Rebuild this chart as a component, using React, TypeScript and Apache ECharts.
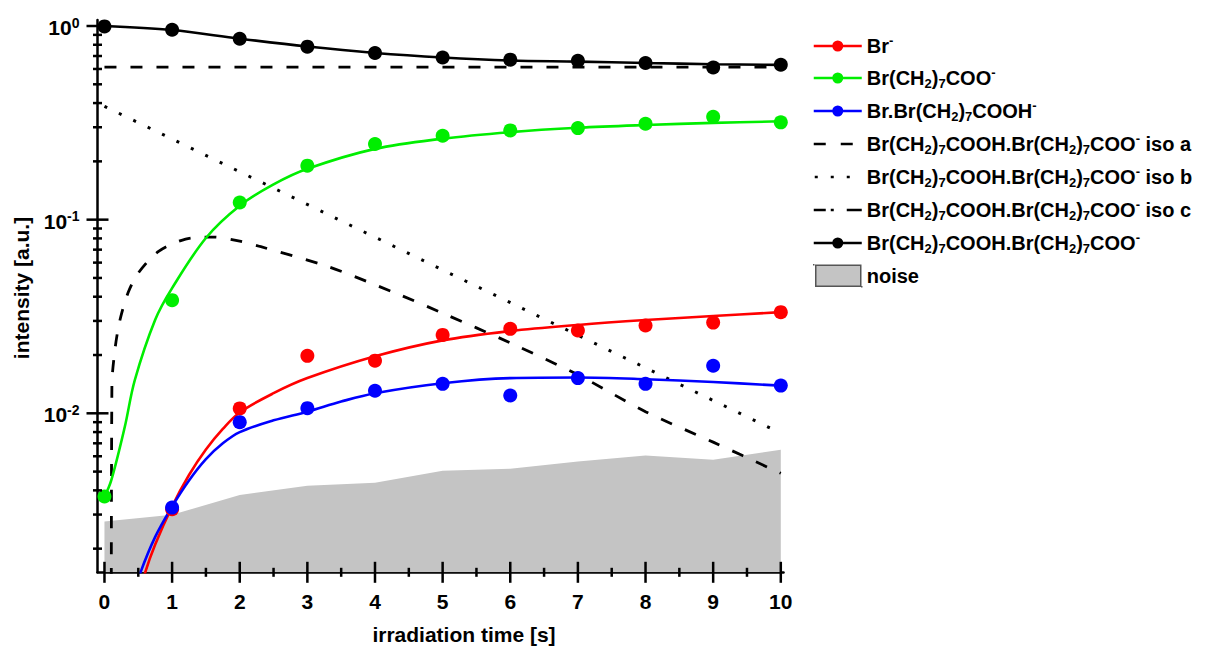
import React, { useEffect, useRef } from 'react';
import * as echarts from 'echarts';

const FONT = '"Liberation Sans", Arial, sans-serif';

// ---- axes ----
const X_MIN = -0.103;
const X_MAX = 10.04;
const Y_MIN = 0.00151;
const Y_MAX = 1.074;
const X_MAJOR = [0, 1, 2, 3, 4, 5, 6, 7, 8, 9, 10];
const X_TICK_LABELS = ['0', '1', '2', '3', '4', '5', '6', '7', '8', '9', '10'];
const X_MINOR = [0.5, 1.5, 2.5, 3.5, 4.5, 5.5, 6.5, 7.5, 8.5, 9.5];
const Y_MAJOR = [1, 0.1, 0.01];
const Y_TICK_EXP = ['0', '-1', '-2'];
const Y_MINOR = [0.9, 0.8, 0.7, 0.6, 0.5, 0.4, 0.3, 0.2, 0.09, 0.08, 0.07, 0.06, 0.05, 0.04, 0.03, 0.02, 0.009, 0.008, 0.007, 0.006, 0.005, 0.004, 0.003, 0.002];

// ---- names ----
const N_BR = 'Br-';
const N_ACID = 'Br(CH2)7COO-';
const N_ADD = 'Br.Br(CH2)7COOH-';
const N_ISOA = 'Br(CH2)7COOH.Br(CH2)7COO- iso a';
const N_ISOB = 'Br(CH2)7COOH.Br(CH2)7COO- iso b';
const N_ISOC = 'Br(CH2)7COOH.Br(CH2)7COO- iso c';
const N_DIMER = 'Br(CH2)7COOH.Br(CH2)7COO-';
const N_NOISE = 'noise';

// ---- measured points ----
const BR_T = [1, 2, 3, 4, 5, 6, 7, 8, 9, 10];
const BR_VAL = [0.0032, 0.0106, 0.0198, 0.0187, 0.0254, 0.0273, 0.0268, 0.0284, 0.0294, 0.0333];
const ACID_T = [0, 1, 2, 3, 4, 5, 6, 7, 8, 9, 10];
const ACID_VAL = [0.00372, 0.0384, 0.1227, 0.19, 0.2457, 0.2713, 0.289, 0.297, 0.313, 0.34, 0.318];
const ADD_T = [1, 2, 3, 4, 5, 6, 7, 8, 9, 10];
const ADD_VAL = [0.00326, 0.009, 0.01063, 0.01307, 0.0142, 0.01236, 0.0152, 0.0142, 0.0176, 0.0139];
const DIMER_T = [0, 1, 2, 3, 4, 5, 6, 7, 8, 9, 10];
const DIMER_VAL = [0.995, 0.957, 0.86, 0.782, 0.725, 0.688, 0.67, 0.662, 0.644, 0.611, 0.631];

// ---- fitted curves ----
const BR_FIT_T = [0.5, 0.6, 0.75, 1, 1.25, 1.5, 1.75, 2, 2.5, 3, 4, 5, 6, 7, 8, 9, 10];
const BR_FIT = [0.0011, 0.0015, 0.0021, 0.0033, 0.0048, 0.0065, 0.0083, 0.0101, 0.0127, 0.0152, 0.0197, 0.0238, 0.0266, 0.0286, 0.0303, 0.0318, 0.0333];
const ACID_FIT_T = [0, 0.1, 0.3, 0.45, 0.75, 1, 1.5, 2, 2.5, 3, 4, 5, 6, 7, 8, 9, 10];
const ACID_FIT = [0.0037, 0.0045, 0.0085, 0.0149, 0.0304, 0.0443, 0.0804, 0.118, 0.152, 0.183, 0.232, 0.262, 0.283, 0.298, 0.308, 0.316, 0.322];
const ADD_FIT_T = [0.45, 0.53, 0.75, 1, 1.25, 1.5, 1.75, 2, 2.5, 3, 3.5, 4, 5, 6, 7, 8, 9, 10];
const ADD_FIT = [0.0012, 0.0015, 0.0023, 0.0033, 0.0045, 0.0058, 0.007, 0.008, 0.0092, 0.0102, 0.0115, 0.0127, 0.0143, 0.0152, 0.0153, 0.015, 0.0145, 0.0139];
const DIMER_FIT_T = [0, 1, 2, 3, 4, 5, 6, 7, 8, 9, 10];
const DIMER_FIT = [1.0, 0.953, 0.86, 0.783, 0.726, 0.688, 0.664, 0.655, 0.644, 0.635, 0.63];
const ISOA_T = [0.1, 0.11, 0.16, 0.23, 0.35, 0.5, 0.8, 1.2, 1.6, 2.0, 2.3, 3.3, 4.3, 5, 6, 7, 8, 9, 10];
const ISOA_VAL = [0.0004, 0.014, 0.022, 0.0304, 0.042, 0.053, 0.0685, 0.0794, 0.0813, 0.0775, 0.0727, 0.0573, 0.0418, 0.0329, 0.0231, 0.0158, 0.0102, 0.0071, 0.0049];
const ISOA_FLAT_T = [0, 10];
const ISOA_FLAT_VAL = [0.613, 0.613];
const ISOB_T = [0, 5, 10];
const ISOB_VAL = [0.385, 0.055, 0.0079];
const NOISE_T = [0, 1, 2, 3, 4, 5, 6, 7, 8, 9, 10];
const NOISE_VAL = [0.00276, 0.00299, 0.00379, 0.00422, 0.00438, 0.00505, 0.00517, 0.00564, 0.00605, 0.00575, 0.00648];

// ---- legend rich labels ----
const DIMER_RICH = '{n|Br(CH}{s|2}{n|)}{s|7}{n|COOH.Br(CH}{s|2}{n|)}{s|7}{n|COO}{p|-}';
const LEGEND_LABELS: Record<string, string> = {
  [N_BR]: '{n|Br}{p|-}',
  [N_ACID]: '{n|Br(CH}{s|2}{n|)}{s|7}{n|COO}{p|-}',
  [N_ADD]: '{n|Br.Br(CH}{s|2}{n|)}{s|7}{n|COOH}{p|-}',
  [N_ISOA]: DIMER_RICH + '{n| iso a}',
  [N_ISOB]: DIMER_RICH + '{n| iso b}',
  [N_ISOC]: DIMER_RICH + '{n| iso c}',
  [N_DIMER]: DIMER_RICH,
  [N_NOISE]: '{n|noise}',
};

const CORNERS = 'M0,0h0.01v0.01h-0.01z M47.99,21.99h0.01v0.01h-0.01z ';
const ICON_LINE_DOT = 'path://' + CORNERS + 'M0,9.7h48v2.6h-48z M24,5.5a5.5,5.5 0 1,1 0,11a5.5,5.5 0 1,1 0,-11z';
const ICON_DASH = 'path://' + CORNERS + 'M0,9.7h12v2.6h-12z M27,9.7h12v2.6h-12z';
const ICON_DOT = 'path://' + CORNERS + 'M1,9.7h3v2.6h-3z M17,9.7h3v2.6h-3z M33,9.7h3v2.6h-3z';
const ICON_DASHDOT = 'path://' + CORNERS + 'M0,9.7h12v2.6h-12z M17,9.7h3v2.6h-3z M33,9.7h15v2.6h-15z';
const ICON_RECT = 'path://' + CORNERS + 'M2,0.5h45v21h-45z';

const RED = '#ff0000';
const GREEN = '#00ee00';
const BLUE = '#0000ff';
const BLACK = '#000000';
const GRAY = '#c4c4c4';

const pairs = (t: number[], v: number[]) => t.map((x, i) => [x, v[i]]);

export default function App() {
  const ref = useRef<HTMLDivElement>(null);
  useEffect(() => {
    const chart = echarts.init(ref.current!, null, { renderer: 'svg' });

    const fitLine = (name: string, color: string, t: number[], v: number[]) => ({
      type: 'line', name, data: pairs(t, v), color, symbol: 'none', showSymbol: false,
      smooth: 0.35, clip: true, z: 3,
      lineStyle: { color, width: 2.6 }, itemStyle: { color },
    });
    const scatter = (name: string, color: string, t: number[], v: number[]) => ({
      type: 'scatter', name, data: pairs(t, v), color, symbol: 'circle', symbolSize: 14,
      itemStyle: { color, opacity: 1 }, z: 5, clip: true,
    });
    const styled = (name: string, t: number[], v: number[], dash: number[], width: number, smooth: number | boolean) => ({
      type: 'line', name, data: pairs(t, v), color: BLACK, symbol: 'none', showSymbol: false,
      smooth, clip: true, z: 2,
      lineStyle: { color: BLACK, width, type: dash, cap: 'butt' }, itemStyle: { color: BLACK },
    });

    const xTickData = [
      ...X_MAJOR.map((v, i) => [v, Y_MIN, 1, i]),
      ...X_MINOR.map((v) => [v, Y_MIN, 0, -1]),
    ];
    const yTickData = [
      ...Y_MAJOR.map((v, i) => [X_MIN, v, 1, i]),
      ...Y_MINOR.map((v) => [X_MIN, v, 0, -1]),
    ];

    const option: any = {
      animation: false,
      backgroundColor: '#ffffff',
      grid: { left: 97.5, right: 426.5, top: 20, bottom: 80.7, containLabel: false, outerBoundsMode: 'none' },
      xAxis: {
        type: 'value', min: X_MIN, max: X_MAX,
        axisLine: { show: true, onZero: false, lineStyle: { color: BLACK, width: 2.5 } },
        axisTick: { show: false }, axisLabel: { show: false }, splitLine: { show: false },
      },
      yAxis: {
        type: 'log', logBase: 10, min: Y_MIN, max: Y_MAX,
        axisLine: { show: true, onZero: false, lineStyle: { color: BLACK, width: 2.5 } },
        axisTick: { show: false }, axisLabel: { show: false }, splitLine: { show: false },
        minorTick: { show: false }, minorSplitLine: { show: false },
      },
      legend: {
        orient: 'vertical', left: 813, top: 34, padding: 0,
        itemWidth: 48, itemHeight: 22, itemGap: 9,
        selectedMode: false,
        itemStyle: { borderWidth: 0 },
        formatter: (name: string) => LEGEND_LABELS[name] || name,
        textStyle: {
          color: BLACK, fontFamily: FONT, fontWeight: 'bold', fontSize: 20,
          rich: {
            n: { color: BLACK, fontFamily: FONT, fontWeight: 'bold', fontSize: 20, lineHeight: 24 },
            s: { color: BLACK, fontFamily: FONT, fontWeight: 'bold', fontSize: 13, lineHeight: 13, verticalAlign: 'bottom' },
            p: { color: BLACK, fontFamily: FONT, fontWeight: 'bold', fontSize: 13, lineHeight: 13, verticalAlign: 'top' },
          },
        },
        data: [
          { name: N_BR, icon: ICON_LINE_DOT },
          { name: N_ACID, icon: ICON_LINE_DOT },
          { name: N_ADD, icon: ICON_LINE_DOT },
          { name: N_ISOA, icon: ICON_DASH },
          { name: N_ISOB, icon: ICON_DOT },
          { name: N_ISOC, icon: ICON_DASHDOT },
          { name: N_DIMER, icon: ICON_LINE_DOT },
          { name: N_NOISE, icon: ICON_RECT, itemStyle: { color: GRAY, borderColor: '#555555', borderWidth: 1.5 } },
        ],
      },
      graphic: [
        {
          type: 'text', x: 464, y: 634,
          style: { text: 'irradiation time [s]', fill: BLACK, fontFamily: FONT, fontWeight: 'bold', fontSize: 21, align: 'center', verticalAlign: 'middle' },
        },
        {
          type: 'text', x: 21, y: 288, rotation: Math.PI / 2,
          style: { text: 'intensity [a.u.]', fill: BLACK, fontFamily: FONT, fontWeight: 'bold', fontSize: 21, align: 'center', verticalAlign: 'middle' },
        },
      ],
      series: [
        {
          type: 'line', name: N_NOISE, data: pairs(NOISE_T, NOISE_VAL), color: GRAY,
          symbol: 'none', showSymbol: false, z: 1, clip: true,
          lineStyle: { width: 0, color: GRAY }, itemStyle: { color: GRAY },
          areaStyle: { color: GRAY, opacity: 1, origin: 'start' },
        },
        styled(N_ISOA, ISOA_T, ISOA_VAL, [12, 14], 2.8, 0.3),
        styled(N_ISOA, ISOA_FLAT_T, ISOA_FLAT_VAL, [12, 14], 2.8, false),
        styled(N_ISOB, ISOB_T, ISOB_VAL, [3, 13], 3, false),
        styled(N_ISOC, [], [], [12, 5, 3, 5], 2.8, false),
        fitLine(N_BR, RED, BR_FIT_T, BR_FIT),
        fitLine(N_ACID, GREEN, ACID_FIT_T, ACID_FIT),
        fitLine(N_ADD, BLUE, ADD_FIT_T, ADD_FIT),
        fitLine(N_DIMER, BLACK, DIMER_FIT_T, DIMER_FIT),
        scatter(N_BR, RED, BR_T, BR_VAL),
        scatter(N_ACID, GREEN, ACID_T, ACID_VAL),
        scatter(N_ADD, BLUE, ADD_T, ADD_VAL),
        scatter(N_DIMER, BLACK, DIMER_T, DIMER_VAL),
        {
          type: 'custom', name: 'xticks', data: xTickData, silent: true, z: 10, clip: false,
          renderItem: (params: any, api: any) => {
            const p = api.coord([api.value(0), api.value(1)]);
            const major = api.value(2) === 1;
            const h = major ? 10.5 : 4.5;
            const children: any[] = [
              { type: 'line', shape: { x1: p[0], y1: p[1] - h, x2: p[0], y2: p[1] + h }, style: { stroke: BLACK, lineWidth: 2.5 } },
            ];
            if (major) {
              children.push({
                type: 'text', x: p[0], y: p[1] + 29,
                style: { text: X_TICK_LABELS[api.value(3)], fill: BLACK, fontFamily: FONT, fontWeight: 'bold', fontSize: 21, align: 'center', verticalAlign: 'middle' },
              });
            }
            return { type: 'group', children };
          },
        },
        {
          type: 'custom', name: 'yticks', data: yTickData, silent: true, z: 10, clip: false,
          renderItem: (params: any, api: any) => {
            const p = api.coord([api.value(0), api.value(1)]);
            const major = api.value(2) === 1;
            const h = major ? 11 : 4.5;
            const children: any[] = [
              { type: 'line', shape: { x1: p[0] - h, y1: p[1], x2: p[0] + h, y2: p[1] }, style: { stroke: BLACK, lineWidth: 2.5 } },
            ];
            if (major) {
              children.push({
                type: 'text', x: p[0] - 18, y: p[1] + 1.5,
                style: {
                  text: '{a|10}{b|' + Y_TICK_EXP[api.value(3)] + '}',
                  align: 'right', verticalAlign: 'middle',
                  rich: {
                    a: { fill: BLACK, fontFamily: FONT, fontWeight: 'bold', fontSize: 21, lineHeight: 24 },
                    b: { fill: BLACK, fontFamily: FONT, fontWeight: 'bold', fontSize: 14, lineHeight: 14, verticalAlign: 'top' },
                  },
                },
              });
            }
            return { type: 'group', children };
          },
        },
      ],
    };
    chart.setOption(option);
    return () => chart.dispose();
  }, []);
  return (
    <div
      ref={ref}
      style={{ position: 'fixed', left: 0, top: 0, width: 1210, height: 653, background: '#ffffff' }}
    />
  );
}
